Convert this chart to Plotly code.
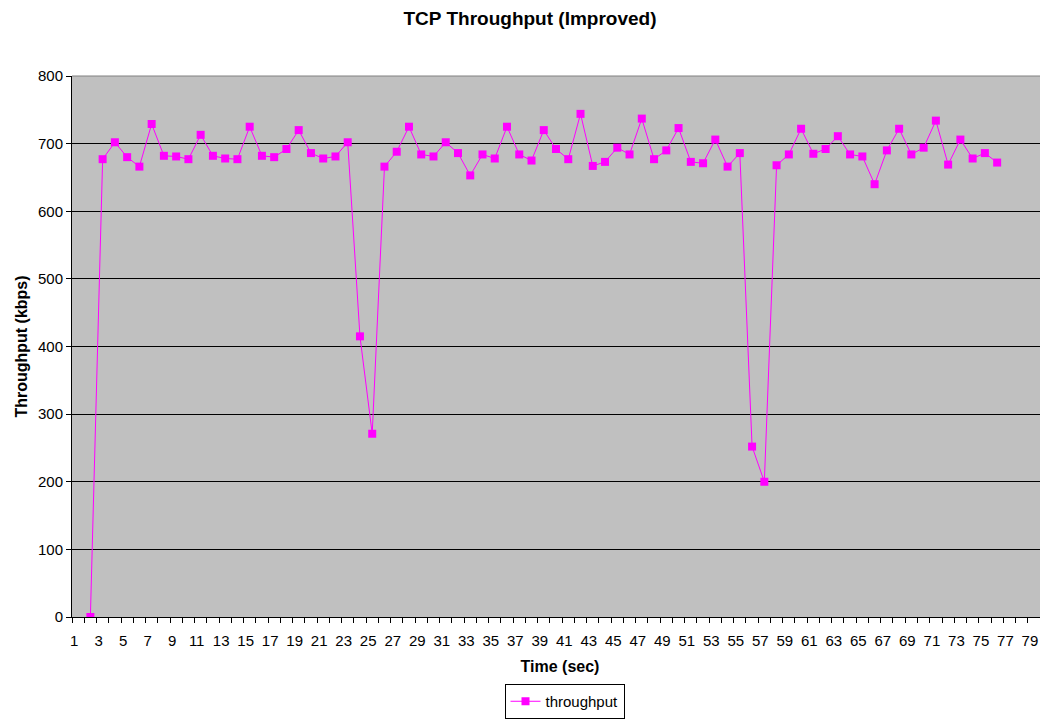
import plotly.graph_objects as go

time_sec = list(range(1, 77))
throughput = [None, 0, 677, 702, 680, 666, 729, 682, 681, 677,
              713, 682, 678, 677, 725, 682, 680, 692, 720, 686,
              678, 681, 702, 415, 271, 666, 688, 725, 684, 681,
              702, 686, 653, 684, 678, 725, 684, 675, 720, 692,
              677, 744, 667, 673, 694, 684, 737, 677, 690, 723,
              673, 671, 706, 666, 686, 252, 200, 668, 684, 722,
              685, 692, 711, 684, 681, 640, 690, 722, 684, 694,
              734, 669, 706, 678, 686, 672]
x_tick_vals = list(range(1, 80, 2))
x_tick_text = [str(v) for v in x_tick_vals]
y_tick_vals = list(range(0, 801, 100))

font_family = "Liberation Sans, Arial, sans-serif"

# the page body adds an 8px offset, so the figure is 8px smaller and shifted
W, H = 1040, 712

fig = go.Figure()
fig.add_trace(go.Scatter(
    x=time_sec, y=throughput, mode="lines+markers", name="throughput",
    line=dict(color="#FF00FF", width=1),
    marker=dict(symbol="square", size=8, color="#FF00FF"),
    connectgaps=False,
))

fig.update_layout(
    width=W, height=H,
    paper_bgcolor="white", plot_bgcolor="#C0C0C0",
    margin=dict(l=63.5, r=0, t=68, b=103),
    font=dict(family=font_family, size=15, color="black"),
    title=dict(text="<b>TCP Throughput (Improved)</b>", x=522 / W, xanchor="center",
               y=1 - 10 / H, yanchor="middle", font=dict(size=19)),
    showlegend=True,
    legend=dict(orientation="h", xref="container", yref="container",
                x=556.5 / W, xanchor="center", y=1 / H, yanchor="bottom",
                bordercolor="black", borderwidth=1, bgcolor="white",
                font=dict(size=15), itemwidth=30,
                tracegroupgap=0),
    xaxis=dict(
        range=[0.5, 80.15], tickmode="array", tickvals=x_tick_vals, ticktext=x_tick_text,
        ticks="", showgrid=False, zeroline=False, automargin=False,
        showline=True, linecolor="black", linewidth=1,
        ticklabelstandoff=10, ticklabelshift=-4,
        minor=dict(tickvals=[v + 0.5 for v in range(0, 81)], ticks="outside",
                   ticklen=5, tickcolor="black", tickwidth=1, showgrid=False),
        title=dict(text="<b>Time (sec)</b>", font=dict(size=16), standoff=12),
    ),
    yaxis=dict(
        range=[0, 800], tickmode="array", tickvals=y_tick_vals,
        ticks="outside", ticklen=5, tickcolor="black", automargin=False,
        showgrid=True, gridcolor="black", gridwidth=1, zeroline=False,
        showline=True, linecolor="black", linewidth=1,
        title=dict(text="<b>Throughput (kbps)</b>", font=dict(size=16), standoff=6),
    ),
)
fig.add_shape(type="line", xref="paper", yref="paper", x0=0, x1=1, y0=1, y1=1,
              line=dict(color="#808080", width=1))

fig.write_html("out.html")
